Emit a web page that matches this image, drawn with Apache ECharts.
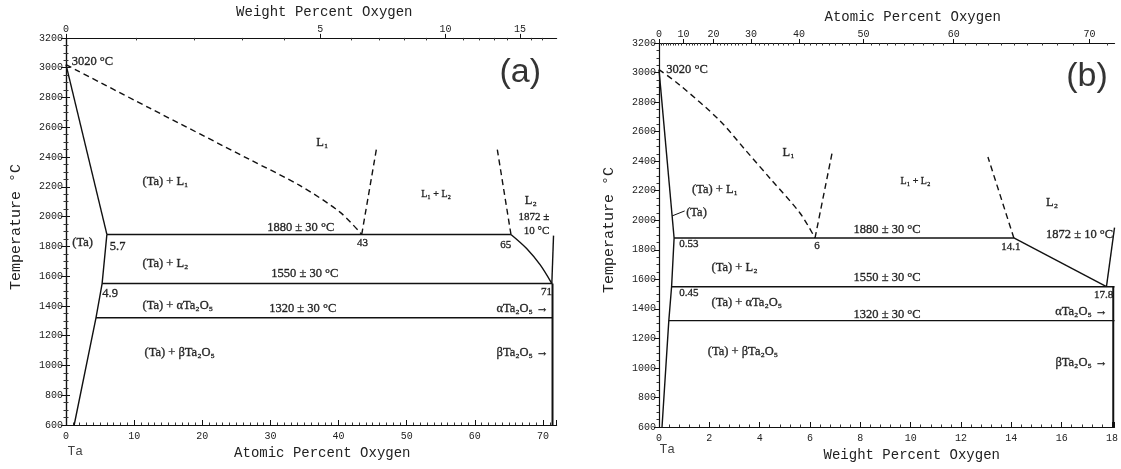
<!DOCTYPE html>
<html>
<head>
<meta charset="utf-8">
<script src="https://cdn.jsdelivr.net/npm/echarts@6/dist/echarts.min.js"></script>
<style>
html, body { margin: 0; padding: 0; background: #fff; }
#main { width: 1121px; height: 469px; }
</style>
</head>
<body>
<div id="main"></div>
<script>
// tick labels
var wtTicksA = [0, 5, 10, 15];                    // top axis of (a), weight % O
var atTicksB = [0, 10, 20, 30, 40, 50, 60, 70];   // top axis of (b), atomic % O

// panel (a): atomic % O vs temperature
var aSolidus = [[0, 3020], [6.0, 1880]];
var aSolvus = [[6.0, 1880], [5.3, 1550], [4.4, 1320], [1.2, 600]];
var aLiquidus = [[0, 3020], [12.3, 2728], [27.0, 2382], [34.3, 2209], [40.2, 2030], [43.4, 1880]];
var aGapLeft = [[43.4, 1880], [45.6, 2465]];
var aGapRight = [[65.3, 1880], [63.3, 2450]];
var aMonotectic = [[6.0, 1880], [65.3, 1880]];
var aL2Liquidus = [[65.3, 1880], [67.6, 1786], [69.6, 1675], [71.3, 1550]];
var aOxideLiquidus = [[71.3, 1550], [71.55, 1872]];
var aEutectic = [[5.3, 1550], [71.4, 1550]];
var aTransition = [[4.4, 1320], [71.4, 1320]];
var aOxide = [[71.4, 600], [71.4, 1550]];

// panel (b): weight % O vs temperature
var bSolidus = [[0, 3020], [0.6, 1880]];
var bSolvus = [[0.6, 1880], [0.5, 1550], [0.39, 1320], [0.12, 600]];
var bLiquidus = [[0, 3020], [0.82, 2916], [2.39, 2679], [3.43, 2476], [4.47, 2272], [5.6, 2049], [6.2, 1880]];
var bGapLeft = [[6.2, 1880], [6.9, 2475]];
var bGapRight = [[14.1, 1880], [13.07, 2428]];
var bMonotectic = [[0.6, 1880], [14.1, 1880]];
var bL2Liquidus = [[14.1, 1880], [17.78, 1550]];
var bOxideLiquidus = [[17.78, 1550], [18.1, 1950]];
var bEutectic = [[0.5, 1550], [18.1, 1550]];
var bTransition = [[0.39, 1320], [18.1, 1320]];
var bOxide = [[18.05, 600], [18.05, 1550]];
var bTaLeader = [[0.52, 2029], [1.02, 2063]];

// annotations: text, x, T, align, size
var aNotes = [
    ['3020 °C', 0.9, 3034],
    ['(Ta) + L₁', 11.3, 2229],
    ['L₁', 36.8, 2495],
    ['L₁ + L₂', 52.2, 2143, 'left', 10],
    ['L₂', 67.4, 2103],
    ['1872 ±', 71.0, 1990, 'right', 11],
    ['10 °C', 71.0, 1897, 'right', 11],
    ['1880 ± 30 °C', 29.6, 1923],
    ['43', 43.6, 1817, 'center', 11],
    ['65', 64.6, 1804, 'center', 11],
    ['(Ta)', 1.0, 1823],
    ['5.7', 6.5, 1797],
    ['(Ta) + L₂', 11.3, 1677],
    ['1550 ± 30 °C', 30.2, 1611],
    ['4.9', 5.4, 1478],
    ['(Ta) + αTa₂O₅', 11.3, 1398],
    ['1320 ± 30 °C', 29.9, 1378],
    ['71', 70.6, 1491, 'center', 11],
    ['αTa₂O₅ →', 70.9, 1378, 'right'],
    ['(Ta) + βTa₂O₅', 11.6, 1079],
    ['βTa₂O₅ →', 70.9, 1079, 'right']
];
var bNotes = [
    ['3020 °C', 0.31, 3017],
    ['L₁', 4.93, 2455],
    ['(Ta) + L₁', 1.33, 2205],
    ['(Ta)', 1.1, 2049],
    ['L₁ + L₂', 9.62, 2259, 'left', 10],
    ['L₂', 15.4, 2117],
    ['1880 ± 30 °C', 7.75, 1934],
    ['1872 ± 10 °C', 15.4, 1900],
    ['6', 6.3, 1819, 'center', 11],
    ['0.53', 0.82, 1832, 'left', 11],
    ['14.1', 14.0, 1812, 'center', 11],
    ['(Ta) + L₂', 2.11, 1677],
    ['1550 ± 30 °C', 7.75, 1609],
    ['0.45', 0.82, 1501, 'left', 11],
    ['(Ta) + αTa₂O₅', 2.11, 1440],
    ['17.8', 18.07, 1487, 'right', 11],
    ['αTa₂O₅ →', 17.84, 1379, 'right'],
    ['1320 ± 30 °C', 7.75, 1358],
    ['(Ta) + βTa₂O₅', 1.96, 1108],
    ['βTa₂O₅ →', 17.84, 1033, 'right']
];

// atomic % <-> weight % oxygen in Ta-O
function atToWt(a) { return 16 * a / (16 * a + 180.948 * (100 - a)) * 100; }
function wtToAt(w) { var o = w / 16, t = (100 - w) / 180.948; return o / (o + t) * 100; }

var INK = '#111';
var MONO = 'Liberation Mono, DejaVu Sans Mono, monospace';
var SERIF = 'Liberation Serif, DejaVu Serif, serif';

function lineSeries(data, g, dashed, w, smooth) {
    return {
        type: 'line', xAxisIndex: g * 3, yAxisIndex: g * 2, data: data,
        symbol: 'none', showSymbol: false, clip: false, silent: true, z: 3,
        smooth: smooth || false,
        lineStyle: { color: INK, width: w || 1.4, type: dashed ? [6, 4] : 'solid' }
    };
}

function noteSeries(notes, g) {
    return {
        type: 'scatter', xAxisIndex: g * 3, yAxisIndex: g * 2, symbolSize: 1,
        itemStyle: { color: 'rgba(0,0,0,0)' }, clip: false, silent: true, z: 5,
        label: {
            show: true, formatter: '{b}', position: [0, 0], verticalAlign: 'middle',
            color: '#000', fontFamily: SERIF, fontSize: 12.5,
            textBorderColor: '#000', textBorderWidth: 0.35
        },
        data: notes.map(function (n) {
            return { name: n[0], value: [n[1], n[2]], label: { align: n[3] || 'left', fontSize: n[4] || 12.5 } };
        })
    };
}

function extraSeries(items, g) {
    return {
        type: 'scatter', xAxisIndex: g * 3, yAxisIndex: g * 2, symbolSize: 1,
        itemStyle: { color: 'rgba(0,0,0,0)' }, clip: false, silent: true, z: 5,
        label: { show: true, formatter: '{b}', position: [0, 0], verticalAlign: 'middle', align: 'left', color: '#111' },
        data: items
    };
}

var tickLabel = { color: '#222', fontFamily: MONO, fontSize: 10 };
var axisLine = { show: true, lineStyle: { color: INK, width: 1.2 } };

function tempAxis(g, right) {
    return {
        gridIndex: g, type: 'value', min: 600, max: 3200, interval: 200,
        position: right ? 'right' : 'left',
        axisLine: axisLine,
        axisTick: { show: true, length: right ? 4 : 5, lineStyle: { color: INK } },
        minorTick: { show: true, splitNumber: 4, length: 2.5, lineStyle: { color: '#333' } },
        axisLabel: right ? { show: false } : Object.assign({
            margin: 3, formatter: function (v) { return String(v); }
        }, tickLabel),
        splitLine: { show: false },
        name: right ? '' : 'Temperature °C', nameLocation: 'middle', nameGap: 42,
        nameTextStyle: { fontFamily: MONO, fontSize: 15, color: '#222', padding: [0, 0, 0, g ? 10 : 9] }
    };
}

var wtMinorA = [];
for (var w = 1; w < 18; w++) if (w % 5) wtMinorA.push(wtToAt(w));
var atMinorB = [];
for (var a = 1; a < 72; a++) if (a % 10) atMinorB.push(atToWt(a));

var option = {
    animation: false,
    backgroundColor: '#fff',
    grid: [
        { left: 66, top: 34, width: 490.6, height: 391 },
        { left: 659, top: 43, width: 462.6, height: 384 }
    ],
    xAxis: [
        {
            gridIndex: 0, type: 'value', min: 0, max: 72, interval: 10, position: 'bottom',
            axisLine: axisLine,
            axisTick: { show: true, inside: true, length: 5, lineStyle: { color: INK } },
            minorTick: { show: true, splitNumber: 10, length: 2.5, lineStyle: { color: '#333' } },
            axisLabel: Object.assign({ margin: 6, showMaxLabel: false }, tickLabel),
            splitLine: { show: false },
            name: 'Atomic Percent Oxygen', nameLocation: 'middle', nameGap: 20,
            nameTextStyle: { fontFamily: MONO, fontSize: 14, color: '#222', padding: [0, 0, 0, 22] }
        },
        {
            gridIndex: 0, type: 'value', min: 0, max: 72, position: 'top',
            axisLine: axisLine,
            axisTick: { show: true, length: 4, customValues: wtTicksA.map(wtToAt), lineStyle: { color: INK } },
            axisLabel: Object.assign({
                margin: 4, customValues: wtTicksA.map(wtToAt),
                formatter: function (v) { return String(Math.round(atToWt(v))); }
            }, tickLabel),
            splitLine: { show: false },
            name: 'Weight Percent Oxygen', nameLocation: 'middle', nameGap: 17,
            nameTextStyle: { fontFamily: MONO, fontSize: 14, color: '#222', padding: [0, 0, 0, 26] }
        },
        {
            gridIndex: 0, type: 'value', min: 0, max: 72, position: 'top',
            axisLine: { show: false },
            axisTick: { show: true, inside: true, length: 2.5, customValues: wtMinorA, lineStyle: { color: '#333' } },
            axisLabel: { show: false }, splitLine: { show: false }
        },
        {
            gridIndex: 1, type: 'value', min: 0, max: 18.1, interval: 2, position: 'bottom',
            axisLine: axisLine,
            axisTick: { show: true, inside: true, length: 5, lineStyle: { color: INK } },
            minorTick: { show: true, splitNumber: 5, length: 2.5, lineStyle: { color: '#333' } },
            axisLabel: Object.assign({ margin: 6, showMaxLabel: false }, tickLabel),
            splitLine: { show: false },
            name: 'Weight Percent Oxygen', nameLocation: 'middle', nameGap: 18,
            nameTextStyle: { fontFamily: MONO, fontSize: 14, color: '#222', padding: [0, 0, 0, 50] }
        },
        {
            gridIndex: 1, type: 'value', min: 0, max: 18.1, position: 'top',
            axisLine: axisLine,
            axisTick: { show: true, length: 4, customValues: atTicksB.map(atToWt), lineStyle: { color: INK } },
            axisLabel: Object.assign({
                margin: 4, customValues: atTicksB.map(atToWt),
                formatter: function (v) { return String(Math.round(wtToAt(v))); }
            }, tickLabel),
            splitLine: { show: false },
            name: 'Atomic Percent Oxygen', nameLocation: 'middle', nameGap: 18,
            nameTextStyle: { fontFamily: MONO, fontSize: 14, color: '#222', padding: [0, 0, 0, 52] }
        },
        {
            gridIndex: 1, type: 'value', min: 0, max: 18.1, position: 'top',
            axisLine: { show: false },
            axisTick: { show: true, inside: true, length: 2.5, customValues: atMinorB, lineStyle: { color: '#333' } },
            axisLabel: { show: false }, splitLine: { show: false }
        }
    ],
    yAxis: [tempAxis(0, false), tempAxis(0, true), tempAxis(1, false), tempAxis(1, true)],
    series: [
        lineSeries(aSolidus, 0), lineSeries(aSolvus, 0), lineSeries(aLiquidus, 0, true, 1.4, 0.3),
        lineSeries(aGapLeft, 0, true), lineSeries(aGapRight, 0, true), lineSeries(aMonotectic, 0),
        lineSeries(aL2Liquidus, 0, false, 1.4, 0.3), lineSeries(aOxideLiquidus, 0), lineSeries(aEutectic, 0),
        lineSeries(aTransition, 0), lineSeries(aOxide, 0, false, 2),
        lineSeries(bSolidus, 1), lineSeries(bSolvus, 1), lineSeries(bLiquidus, 1, true, 1.4, 0.3),
        lineSeries(bGapLeft, 1, true), lineSeries(bGapRight, 1, true), lineSeries(bMonotectic, 1),
        lineSeries(bL2Liquidus, 1), lineSeries(bOxideLiquidus, 1), lineSeries(bEutectic, 1),
        lineSeries(bTransition, 1), lineSeries(bOxide, 1, false, 2), lineSeries(bTaLeader, 1, false, 1),
        noteSeries(aNotes, 0), noteSeries(bNotes, 1),
        extraSeries([
            { name: '(a)', value: [63.7, 2961], label: { fontFamily: 'Liberation Sans, Arial, sans-serif', fontSize: 34, color: '#000' } },
            { name: 'Ta', value: [0.3, 420], label: { fontFamily: MONO, fontSize: 13 } }
        ], 0),
        extraSeries([
            { name: '(b)', value: [16.2, 2970], label: { fontFamily: 'Liberation Sans, Arial, sans-serif', fontSize: 34, color: '#000' } },
            { name: 'Ta', value: [0.04, 444], label: { fontFamily: MONO, fontSize: 13 } }
        ], 1)
    ]
};

// right temperature axis of (b) sits at the page edge and is not drawn
option.yAxis[3].axisLine = { show: false };
option.yAxis[3].axisTick = { show: false };
option.yAxis[3].minorTick = { show: false };

var chart = echarts.init(document.getElementById('main'));
chart.setOption(option);
</script>
</body>
</html>
